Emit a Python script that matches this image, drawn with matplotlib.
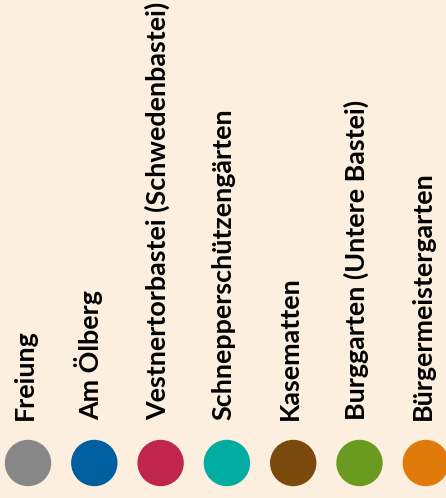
import matplotlib.pyplot as plt
from matplotlib.patches import Circle

names = ["Freiung", "Am Ölberg", "Vestnertorbastei (Schwedenbastei)",
         "Schnepperschützengärten", "Kasematten", "Burggarten (Untere Bastei)",
         "Bürgermeistergarten"]
colors = ["#878787", "#005f9e", "#c0264b", "#00ada0", "#7a4a0c", "#6a9a1f", "#e07b0b"]

fig = plt.figure(figsize=(4.46, 4.98), dpi=100, facecolor="#fcefdf")
ax = fig.add_axes([0, 0, 1, 1])
ax.set_xlim(0, 446)
ax.set_ylim(498, 0)
ax.axis("off")

for i, (name, c) in enumerate(zip(names, colors)):
    cx = 28 + i * 66.3
    ax.add_patch(Circle((cx, 463), 22.5, color=c))
    ax.text(cx + 5, 420, name, rotation=90, rotation_mode="anchor",
            ha="left", va="baseline", fontsize=19.4, fontweight="bold",
            family="Lato", color="black")

fig.savefig("out.png", dpi=100, facecolor=fig.get_facecolor())
